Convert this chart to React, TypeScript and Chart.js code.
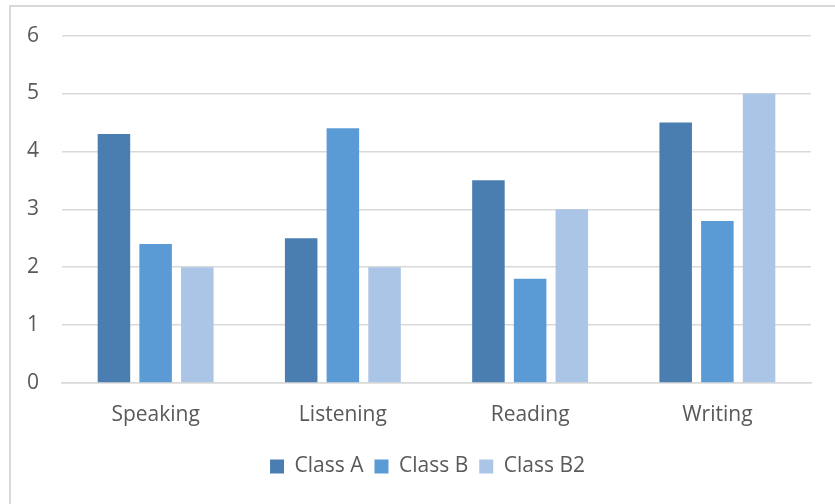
import React, { useEffect, useRef } from "react";
import { Chart, registerables } from "chart.js";

Chart.register(...registerables);

const categories = ["Speaking", "Listening", "Reading", "Writing"];
const classA = [4.3, 2.5, 3.5, 4.5];
const classB = [2.4, 4.4, 1.8, 2.8];
const classB2 = [2.0, 2.0, 3.0, 5.0];
const seriesNames = ["Class A", "Class B", "Class B2"];
const seriesColors = ["#4a7eb1", "#5b9bd5", "#abc5e6"];
const yMin = 0;
const yMax = 6;
const yStep = 1;

const FONT = "'Open Sans', 'Noto Sans', sans-serif";
const TEXT = "#595959";
const GRID = "#d9d9d9";

const shiftLegend = {
  id: "shiftLegend",
  afterLayout(chart: any) {
    const lg = chart.legend;
    if (lg) {
      lg.left += 22;
      lg.right += 22;
    }
  },
};

export default function App() {
  const ref = useRef<HTMLCanvasElement | null>(null);

  useEffect(() => {
    document.body.style.margin = "0";
    const canvas = ref.current;
    if (!canvas) return;
    const values = [classA, classB, classB2];
    const chart = new Chart(canvas, {
      type: "bar",
      data: {
        labels: categories,
        datasets: seriesNames.map((name, i) => ({
          label: name,
          data: values[i],
          backgroundColor: seriesColors[i],
          borderWidth: 0,
          categoryPercentage: 0.668,
          barPercentage: 0.78,
        })),
      },
      options: {
        responsive: false,
        animation: false,
        layout: { padding: { left: 0, right: 24, top: 35, bottom: 17 } },
        plugins: {
          tooltip: { enabled: false },
          legend: {
            position: "bottom",
            labels: {
              boxWidth: 14,
              boxHeight: 14,
              padding: 11,
              color: TEXT,
              font: { family: FONT, size: 21 },
            },
          },
        },
        scales: {
          x: {
            grid: { display: false },
            border: { display: true, color: GRID, width: 1.5 },
            ticks: {
              color: TEXT,
              padding: 11,
              font: { family: FONT, size: 21 },
            },
            afterFit: (scale: any) => {
              scale.height = 62;
            },
          },
          y: {
            min: yMin,
            max: yMax,
            border: { display: false },
            grid: { color: GRID, lineWidth: 1.5, drawTicks: false },
            ticks: {
              stepSize: yStep,
              color: TEXT,
              padding: 23,
              font: { family: FONT, size: 21 },
            },
            afterFit: (scale: any) => {
              scale.width = 62;
            },
          },
        },
      },
      plugins: [shiftLegend],
    });
    return () => chart.destroy();
  }, []);

  return (
    <div style={{ position: "relative", width: 835, height: 504, overflow: "hidden", background: "#fff" }}>
      <div
        style={{
          position: "absolute",
          left: 9,
          top: 5,
          width: 900,
          height: 600,
          border: "2px solid #d9d9d9",
          boxSizing: "border-box",
        }}
      />
      <canvas ref={ref} width={835} height={504} style={{ position: "absolute", left: 0, top: 0, display: "block" }} />
    </div>
  );
}
